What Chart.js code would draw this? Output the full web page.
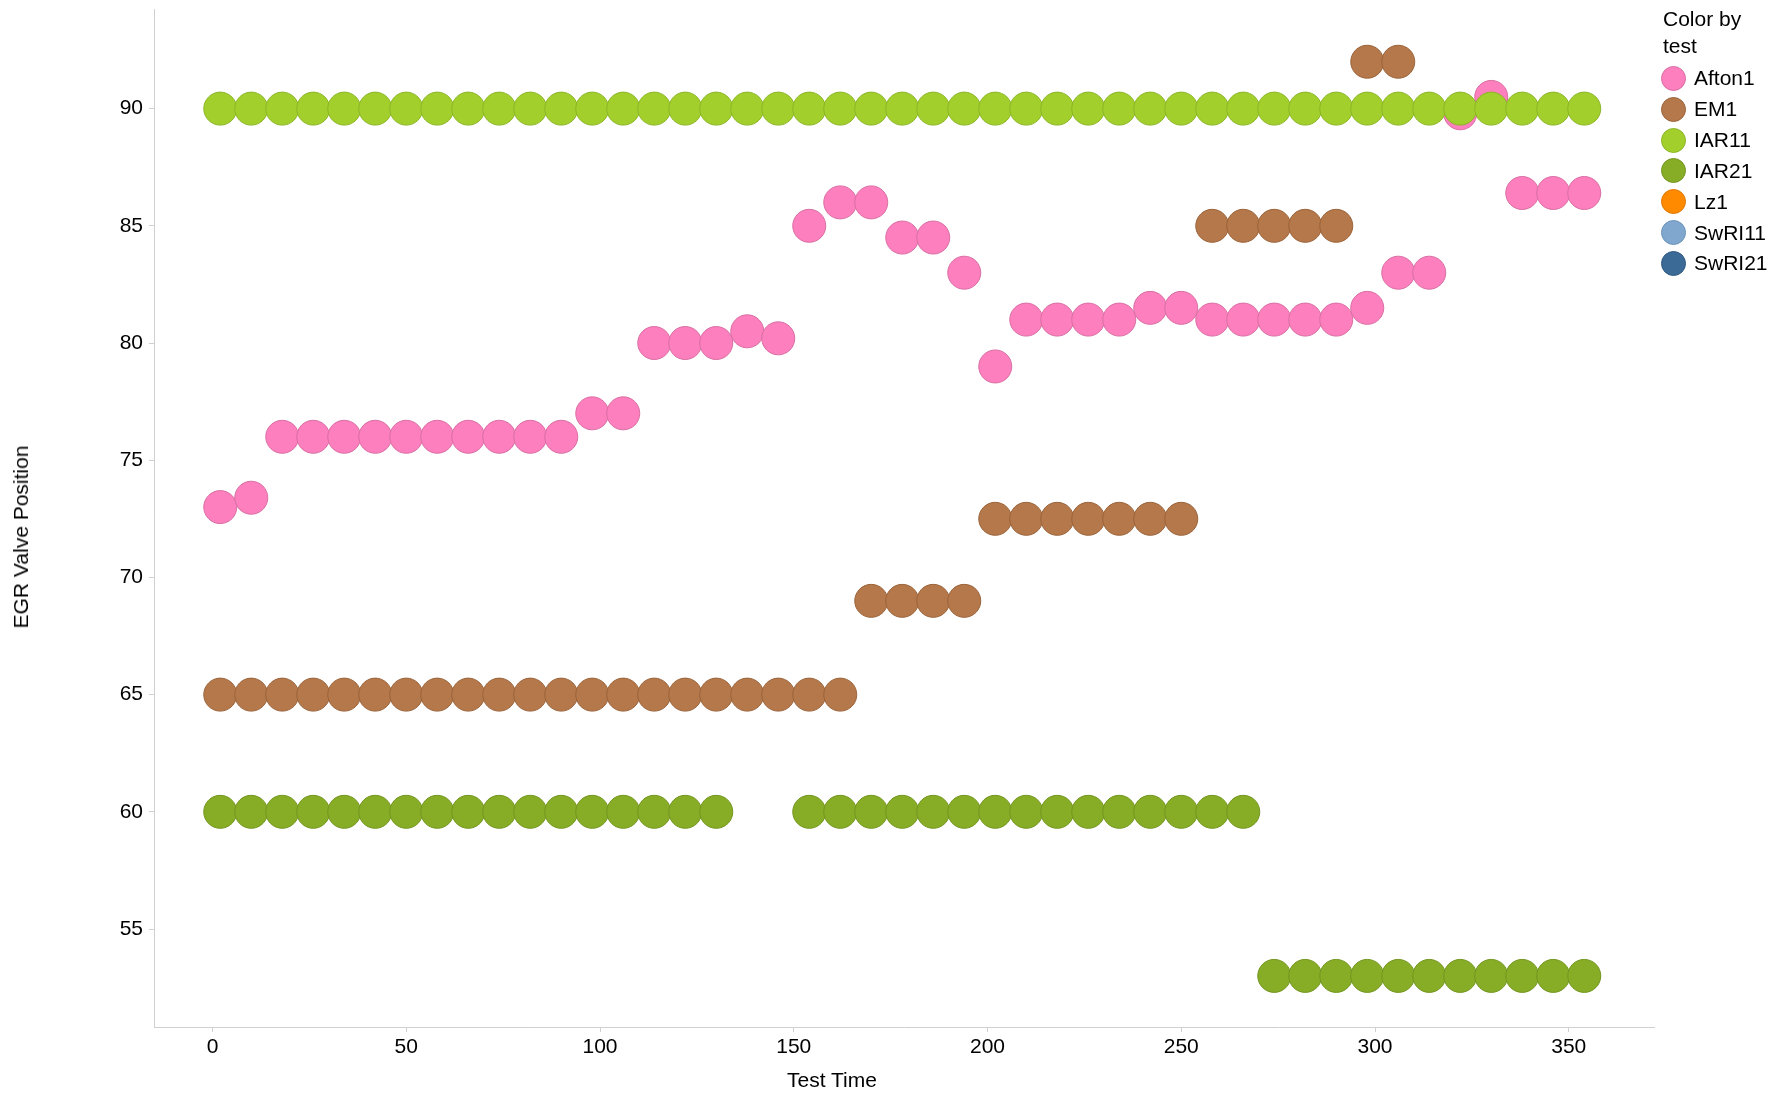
<!DOCTYPE html>
<html>
<head>
<meta charset="utf-8">
<script src="https://cdn.jsdelivr.net/npm/chart.js@4/dist/chart.umd.min.js"></script>
<style>
  body { margin: 0; background: #fff; font-family: "Liberation Sans", Arial, sans-serif; }
  #wrap { position: relative; width: 1792px; height: 1095px; }
  canvas { position: absolute; left: 0; top: 0; }
  .axis-title { position: absolute; font-size: 21px; color: #000; white-space: nowrap; }
  #ytitle { left: 21px; top: 537px; transform: translate(-50%, -50%) rotate(-90deg); }
  #xtitle { left: 832px; top: 1080px; transform: translate(-50%, -50%); }
  #legend { position: absolute; left: 1663px; top: 5px; font-size: 21px; color: #000; }
  #legend .ttl { line-height: 27px; margin-bottom: 4px; }
  #legend .item { height: 30.85px; display: flex; align-items: center; margin-left: -2px; }
  #legend .dot { width: 25px; height: 25px; border-radius: 50%; box-sizing: border-box; margin-right: 8px; }
</style>
</head>
<body>
<div id="wrap">
  <canvas id="c" width="1792" height="1095"></canvas>
  <div class="axis-title" id="ytitle">EGR Valve Position</div>
  <div class="axis-title" id="xtitle">Test Time</div>
  <div id="legend"></div>
</div>
<script>
/* EGR valve position vs test time, coloured by test */
const testTime = [2, 10, 18, 26, 34, 42, 50, 58, 66, 74, 82, 90, 98, 106, 114, 122, 130, 138, 146, 154,
  162, 170, 178, 186, 194, 202, 210, 218, 226, 234, 242, 250, 258, 266, 274, 282, 290, 298, 306, 314,
  322, 330, 338, 346, 354];

const afton1 = [73, 73.4, 76, 76, 76, 76, 76, 76, 76, 76, 76, 76, 77, 77, 80, 80, 80, 80.5, 80.2, 85,
  86, 86, 84.5, 84.5, 83, 79, 81, 81, 81, 81, 81.5, 81.5, 81, 81, 81, 81, 81, 81.5, 83, 83,
  89.8, 90.5, 86.4, 86.4, 86.4];
const em1 = [65, 65, 65, 65, 65, 65, 65, 65, 65, 65, 65, 65, 65, 65, 65, 65, 65, 65, 65, 65,
  65, 69, 69, 69, 69, 72.5, 72.5, 72.5, 72.5, 72.5, 72.5, 72.5, 85, 85, 85, 85, 85, 92, 92, null,
  null, null, null, null, null];
const iar11 = [90, 90, 90, 90, 90, 90, 90, 90, 90, 90, 90, 90, 90, 90, 90, 90, 90, 90, 90, 90,
  90, 90, 90, 90, 90, 90, 90, 90, 90, 90, 90, 90, 90, 90, 90, 90, 90, 90, 90, 90,
  90, 90, 90, 90, 90];
const iar21 = [60, 60, 60, 60, 60, 60, 60, 60, 60, 60, 60, 60, 60, 60, 60, 60, 60, null, null, 60,
  60, 60, 60, 60, 60, 60, 60, 60, 60, 60, 60, 60, 60, 60, 53, 53, 53, 53, 53, 53,
  53, 53, 53, 53, 53];
const lz1 = [];
const swri11 = [];
const swri21 = [];

const xTicks = [0, 50, 100, 150, 200, 250, 300, 350];
const yTicks = [55, 60, 65, 70, 75, 80, 85, 90];

const COLORS = {
  Afton1: ['#fd7fbd', '#d86ea3'],
  EM1: ['#b5784a', '#9a633a'],
  IAR11: ['#a3cf2c', '#8ab526'],
  IAR21: ['#87ad26', '#739520'],
  Lz1: ['#ff8a00', '#e07800'],
  SwRI11: ['#80a8cf', '#6c92b8'],
  SwRI21: ['#3b6a97', '#30597f'],
};

function pts(ys) {
  const out = [];
  ys.forEach((y, i) => { if (y != null) out.push({ x: testTime[i], y }); });
  return out;
}

const series = [
  { label: 'Afton1', data: afton1, order: 2 },
  { label: 'EM1', data: em1, order: 3 },
  { label: 'IAR11', data: iar11, order: 1 },
  { label: 'IAR21', data: iar21, order: 4 },
  { label: 'Lz1', data: lz1, order: 5 },
  { label: 'SwRI11', data: swri11, order: 6 },
  { label: 'SwRI21', data: swri21, order: 7 },
];

const datasets = series.map(s => ({
  label: s.label,
  data: pts(s.data),
  order: s.order,
  backgroundColor: COLORS[s.label][0],
  borderColor: COLORS[s.label][1],
  borderWidth: 1,
  pointRadius: 16.5,
  pointHoverRadius: 16.5,
}));

const font = { family: '"Liberation Sans", Arial, sans-serif', size: 21 };
const axisGray = '#d0d0d0';

new Chart(document.getElementById('c'), {
  type: 'scatter',
  data: { datasets },
  options: {
    responsive: false, animation: false, devicePixelRatio: 1,
    layout: { autoPadding: false, padding: { top: 9, right: 138, left: 0, bottom: 0 } },
    scales: {
      x: {
        type: 'linear', min: -15.1, max: 372,
        border: { color: axisGray, width: 1 },
        grid: { drawOnChartArea: false, drawTicks: true, tickLength: 5, color: axisGray },
        ticks: { color: '#000', font, padding: 3, maxRotation: 0 },
        afterBuildTicks: sc => { sc.ticks = xTicks.map(v => ({ value: v })); },
        afterFit: sc => { sc.height = 68; sc.paddingLeft = 0; sc.paddingRight = 0; },
      },
      y: {
        type: 'linear', min: 50.82, max: 94.25,
        border: { color: axisGray, width: 1 },
        grid: { drawOnChartArea: false, drawTicks: true, tickLength: 5, color: axisGray },
        ticks: { color: '#000', font, padding: 6 },
        afterBuildTicks: sc => { sc.ticks = yTicks.map(v => ({ value: v })); },
        afterFit: sc => { sc.width = 154; sc.paddingTop = 0; sc.paddingBottom = 0; },
      },
    },
    plugins: { legend: { display: false }, tooltip: { enabled: false } },
  }
});

/* legend */
const lg = document.getElementById('legend');
lg.innerHTML = '<div class="ttl">Color by<br>test</div>' + series.map(s =>
  `<div class="item"><span class="dot" style="background:${COLORS[s.label][0]};border:1px solid ${COLORS[s.label][1]}"></span>${s.label}</div>`
).join('');
</script>
</body>
</html>
